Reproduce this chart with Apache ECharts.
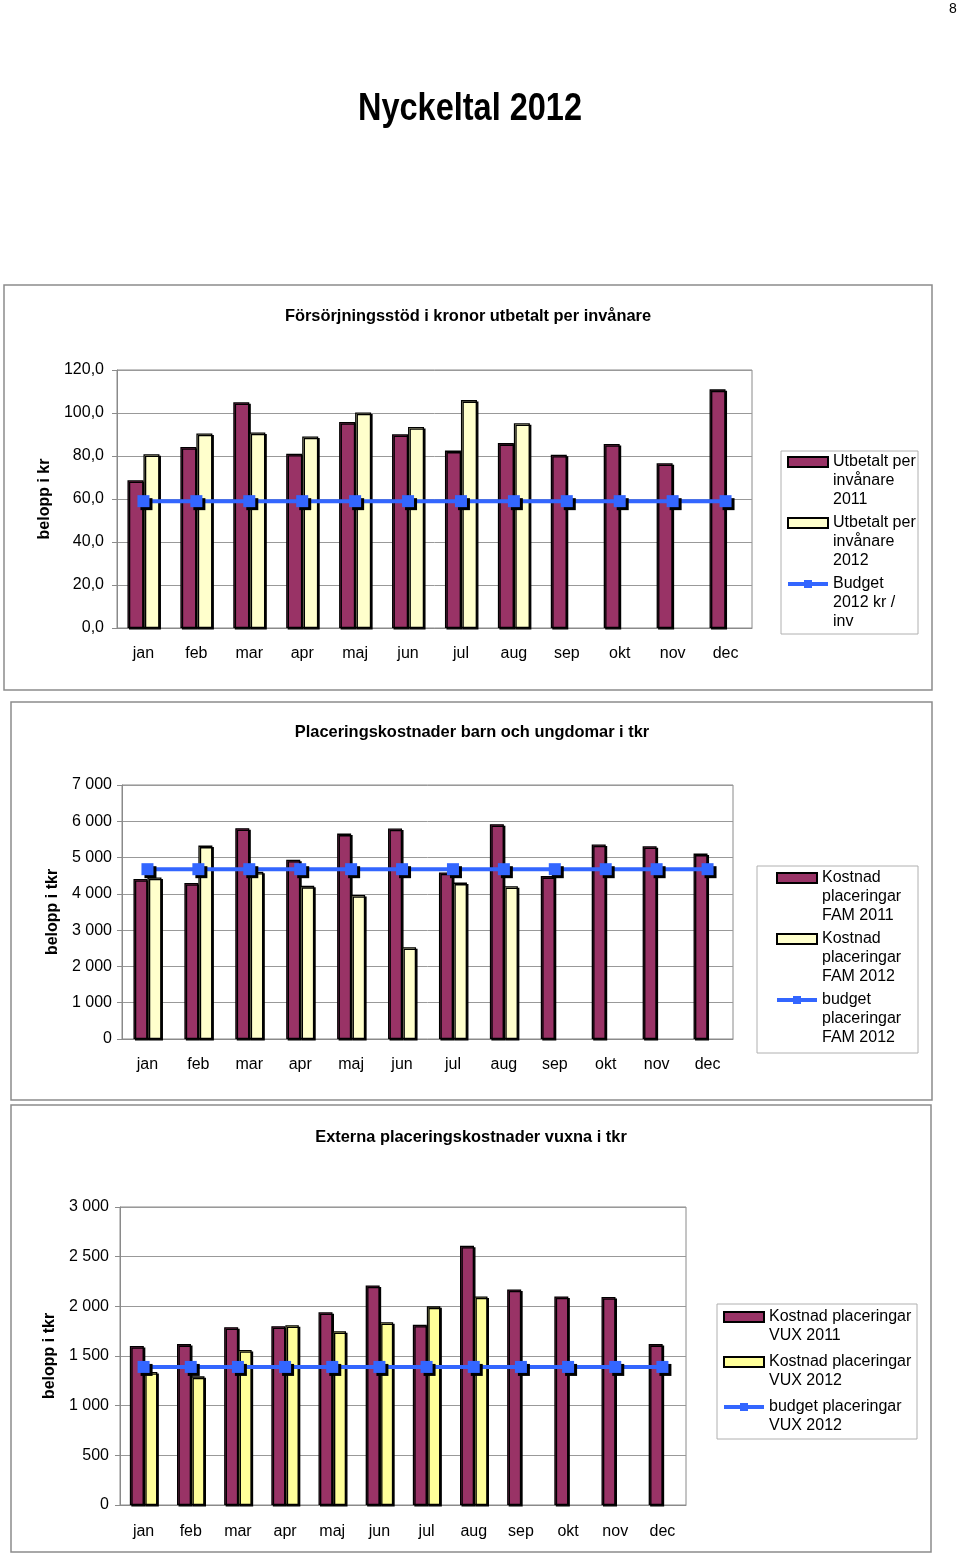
<!DOCTYPE html>
<html><head><meta charset="utf-8">
<script src="https://cdn.jsdelivr.net/npm/echarts@6/dist/echarts.min.js"></script>
<style>html,body{margin:0;padding:0;background:#fff}#c{width:960px;height:1554px}</style>
</head><body><div id="c"></div>
<script>
// ---- data ----
const months = ['jan','feb','mar','apr','maj','jun','jul','aug','sep','okt','nov','dec'];

const c1Names = ['Utbetalt per invånare 2011','Utbetalt per invånare 2012','Budget 2012 kr / inv'];
const c1_2011 = [68.7, 84.2, 105.0, 81.1, 95.8, 90.1, 82.5, 86.0, 80.6, 85.6, 76.6, 111.0];
const c1_2012 = [80.8, 90.5, 90.9, 89.1, 100.2, 93.5, 106.0, 95.2, null, null, null, null];
const c1_budget = [59, 59, 59, 59, 59, 59, 59, 59, 59, 59, 59, 59];

const c2Names = ['Kostnad placeringar FAM 2011','Kostnad placeringar FAM 2012','budget placeringar FAM 2012'];
const c2_2011 = [4410, 4300, 5810, 4940, 5660, 5800, 4590, 5920, 4490, 5360, 5310, 5110];
const c2_2012 = [4450, 5330, 4610, 4220, 3970, 2530, 4310, 4210, null, null, null, null];
const c2_budget = [4680, 4680, 4680, 4680, 4680, 4680, 4680, 4680, 4680, 4680, 4680, 4680];

const c3Names = ['Kostnad placeringar VUX 2011','Kostnad placeringar VUX 2012','budget placeringar VUX 2012'];
const c3_2011 = [1600, 1620, 1790, 1800, 1940, 2210, 1815, 2610, 2170, 2100, 2095, 1620];
const c3_2012 = [1340, 1295, 1560, 1810, 1750, 1840, 2000, 2100, null, null, null, null];
const c3_budget = [1390, 1390, 1390, 1390, 1390, 1390, 1390, 1390, 1390, 1390, 1390, 1390];

const legendWrap = {
  'Utbetalt per invånare 2011': 'Utbetalt per\ninvånare\n2011',
  'Utbetalt per invånare 2012': 'Utbetalt per\ninvånare\n2012',
  'Budget 2012 kr / inv': 'Budget\n2012 kr /\ninv',
  'Kostnad placeringar FAM 2011': 'Kostnad\nplaceringar\nFAM 2011',
  'Kostnad placeringar FAM 2012': 'Kostnad\nplaceringar\nFAM 2012',
  'budget placeringar FAM 2012': 'budget\nplaceringar\nFAM 2012',
  'Kostnad placeringar VUX 2011': 'Kostnad placeringar\nVUX 2011',
  'Kostnad placeringar VUX 2012': 'Kostnad placeringar\nVUX 2012',
  'budget placeringar VUX 2012': 'budget placeringar\nVUX 2012'
};

// ---- style ----
const FONT = "'Liberation Sans', Arial, sans-serif";
const MAROON = '#993366', BLUE = '#3366FF', PALE = '#FFFFCC', YEL = '#FFFF99';
const GRAY = '#8a8a8a';

function thousands(v){ return v >= 1000 ? Math.floor(v/1000) + ' ' + String(v % 1000).padStart(3,'0') : String(v); }

function barS(name, data, color, gi, bw){
  return {type:'bar', name, data, xAxisIndex:gi, yAxisIndex:gi, barWidth:bw, barGap:'0%',
    itemStyle:{color, borderColor:'#000', borderWidth:1.3, shadowColor:'#000', shadowOffsetX:1.5, shadowOffsetY:1.5, shadowBlur:0},
    emphasis:{disabled:true}, animation:false};
}
function lineS(name, data, gi){
  return {type:'line', name, data, xAxisIndex:gi, yAxisIndex:gi, symbol:'rect', symbolSize:12, z:5,
    lineStyle:{color:BLUE, width:4}, itemStyle:{color:BLUE, shadowColor:'#000', shadowOffsetX:3, shadowOffsetY:3, shadowBlur:0},
    emphasis:{disabled:true}, animation:false};
}
function xAx(gi, margin){
  return {type:'category', gridIndex:gi, data:months,
    axisLine:{lineStyle:{color:GRAY, width:1}}, axisTick:{length:5, lineStyle:{color:GRAY}},
    axisLabel:{color:'#000', fontSize:16, fontFamily:FONT, margin}};
}
function yAx(gi, max, interval, fmt, name, gap, margin){
  return {type:'value', gridIndex:gi, min:0, max, interval,
    name, nameLocation:'middle', nameGap:gap, nameTextStyle:{color:'#000', fontSize:16, fontWeight:'bold', fontFamily:FONT},
    axisLine:{show:true, lineStyle:{color:GRAY, width:1}}, axisTick:{show:true, length:5, lineStyle:{color:GRAY}},
    splitLine:{lineStyle:{color:'#999', width:1}},
    axisLabel:{color:'#000', fontSize:16, fontFamily:FONT, margin, formatter:fmt}};
}
// blank leading lines put the first text line level with the legend symbol
function leg(names, left, top, gap, blank){
  return {orient:'vertical', left, top, padding:0, itemWidth:40, itemHeight:10, itemGap:gap, selectedMode:false,
    data:[{name:names[0], icon:'rect'}, {name:names[1], icon:'rect'},
          {name:names[2], lineStyle:{width:4, color:BLUE}, itemStyle:{shadowOffsetX:0, shadowOffsetY:0}}],
    formatter:n => blank + (legendWrap[n] || n),
    textStyle:{color:'#000', fontSize:16, lineHeight:19, fontFamily:FONT}};
}
function txt(text, x, y, size, weight, sx){
  return {type:'text', x, y, scaleX:sx || 1, style:{text, x:0, y:0, align:'center', verticalAlign:'middle', textAlign:'center', textVerticalAlign:'middle',
    fill:'#000', font:(weight||'normal') + ' ' + size + 'px ' + FONT}};
}
function box(x, y, w, h, color, lw){
  return {type:'rect', shape:{x, y, width:w, height:h}, style:{fill:'none', stroke:color, lineWidth:lw}, z:-1};
}

const option = {
  animation:false,
  backgroundColor:'#fff',
  textStyle:{fontFamily:FONT},
  grid:[
    {left:117, top:370, width:635, height:258, show:true, borderColor:GRAY, borderWidth:1, containLabel:false},
    {left:122, top:785, width:611, height:254, show:true, borderColor:GRAY, borderWidth:1, containLabel:false},
    {left:120, top:1207, width:566, height:298, show:true, borderColor:GRAY, borderWidth:1, containLabel:false}
  ],
  xAxis:[xAx(0, 18), xAx(1, 18), xAx(2, 19)],
  yAxis:[
    yAx(0, 120, 20, v => v.toFixed(1).replace('.', ','), 'belopp i kr', 62, 13),
    yAx(1, 7000, 1000, thousands, 'belopp i tkr', 60, 10),
    yAx(2, 3000, 500, thousands, 'belopp i tkr', 60, 11)
  ],
  legend:[
    leg(c1Names, 786, 414.5, -34, '\n\n'),
    leg(c2Names, 775, 830.5, -34, '\n\n'),
    leg(c3Names, 722, 1288.5, -12, '\n')
  ],
  series:[
    barS(c1Names[0], c1_2011, MAROON, 0, 16),
    barS(c1Names[1], c1_2012, PALE, 0, 16),
    lineS(c1Names[2], c1_budget, 0),
    barS(c2Names[0], c2_2011, MAROON, 1, 14),
    barS(c2Names[1], c2_2012, PALE, 1, 14),
    lineS(c2Names[2], c2_budget, 1),
    barS(c3Names[0], c3_2011, MAROON, 2, 14),
    barS(c3Names[1], c3_2012, YEL, 2, 13.5),
    lineS(c3Names[2], c3_budget, 2)
  ],
  graphic:[
    box(4, 285, 928, 405, '#8c8c8c', 1.5),
    box(11, 702, 921, 398, '#8c8c8c', 1.5),
    box(11, 1105, 920, 447, '#8c8c8c', 1.5),
    box(781, 451, 137, 183, '#b0b0b0', 1),
    box(757, 866, 161, 187, '#b0b0b0', 1),
    box(717, 1304, 200, 135, '#b0b0b0', 1),
    txt('8', 953, 9, 14),
    txt('Nyckeltal 2012', 470, 110, 38, 'bold', 0.855),
    txt('Försörjningsstöd i kronor utbetalt per invånare', 468, 316, 16.4, 'bold'),
    txt('Placeringskostnader barn och ungdomar i tkr', 472, 732, 16.4, 'bold'),
    txt('Externa placeringskostnader vuxna i tkr', 471, 1137, 16.4, 'bold')
  ]
};
const chart = echarts.init(document.getElementById('c'), null, {renderer:'canvas'});
chart.setOption(option);
</script>
</body></html>
